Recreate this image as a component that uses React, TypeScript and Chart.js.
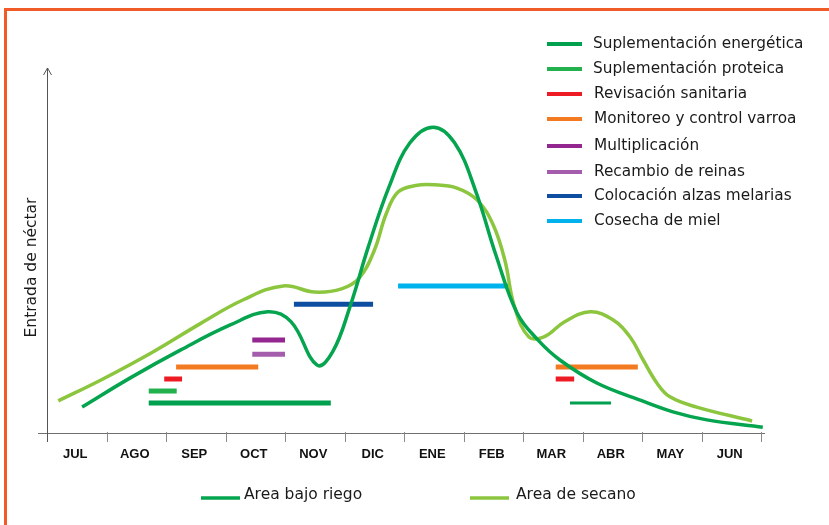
import React, { useEffect, useRef } from "react";
import { Chart, registerables } from "chart.js";

Chart.register(...registerables);

// ---------- data ----------
const months = ["JUL", "AGO", "SEP", "OCT", "NOV", "DIC", "ENE", "FEB", "MAR", "ABR", "MAY", "JUN"];
const yAxisTitle = "Entrada de néctar";

// x in months from start of July, y = relative nectar flow (0-100)
const riegoLabel = "Area bajo riego";
const riegoX = [0.59, 1.4, 2.24, 3.08, 3.71, 4.1, 4.54, 4.8, 5.09, 5.4, 5.75, 6.1, 6.49, 6.85, 7.2, 7.55, 7.9, 8.25, 8.62, 9.24, 9.97, 10.52, 11.09, 12.03];
const riegoY = [7.1, 15.1, 22.7, 29.6, 33.2, 30.5, 18.6, 22.2, 34.5, 51.0, 67.5, 79.5, 83.8, 79.5, 66.5, 48.5, 32.9, 25.5, 20.0, 13.7, 9.0, 5.8, 3.6, 1.6];

const secanoLabel = "Area de secano";
const secanoX = [0.19, 0.94, 1.78, 2.57, 3.3, 3.97, 4.5, 4.95, 5.25, 5.5, 5.7, 5.9, 6.2, 6.5, 6.89, 7.23, 7.5, 7.7, 7.85, 8.1, 8.37, 8.7, 9.13, 9.51, 9.8, 10.02, 10.25, 10.47, 10.92, 11.85];
const secanoY = [8.8, 14.8, 22.2, 29.9, 36.5, 40.3, 38.6, 39.5, 42.5, 50.0, 60.0, 66.0, 67.8, 68.0, 67.1, 63.8, 57.0, 47.0, 35.0, 26.3, 26.5, 30.5, 33.2, 31.0, 26.3, 20.0, 13.7, 9.9, 7.1, 3.3];

// activities: each period = [start month, end month, level]
const activityNames = [
  "Suplementación energética",
  "Suplementación proteica",
  "Revisación sanitaria",
  "Monitoreo y control varroa",
  "Multiplicación",
  "Recambio de reinas",
  "Colocación alzas melarias",
  "Cosecha de miel",
];
const energetica = [[1.71, 4.77, 8.2], [8.79, 9.48, 8.2]];
const proteica = [[1.71, 2.18, 11.5]];
const sanitaria = [[1.97, 2.27, 14.8], [8.55, 8.86, 14.8]];
const varroa = [[2.17, 3.55, 18.1], [8.55, 9.93, 18.1]];
const multiplicacion = [[3.45, 4.0, 25.5]];
const reinas = [[3.45, 4.0, 21.6]];
const alzas = [[4.15, 5.48, 35.3]];
const cosecha = [[5.9, 7.75, 40.3]];
const activityPeriods = [energetica, proteica, sanitaria, varroa, multiplicacion, reinas, alzas, cosecha];

// ---------- styles ----------
const activityColors = ["#00A04E", "#22B14C", "#ED1C24", "#F37A21", "#93278F", "#A45DAD", "#0D4EA0", "#00B2EC"];
const riegoColor = "#05A44F";
const secanoColor = "#8CC63F";
const FONT = "'DejaVu Sans', Verdana, sans-serif";

const toXY = (xs: number[], ys: number[]) => xs.map((x, i) => ({ x, y: ys[i] }));
const toSegments = (periods: number[][]) =>
  periods.flatMap(([a, b, y]) => [
    { x: a, y },
    { x: b, y },
    { x: b, y: null as any },
  ]);

const decorPlugin = {
  id: "decor",
  beforeDatasetsDraw(chart: any) {
    const ctx = chart.ctx;
    const xs = chart.scales.x;
    const ys = chart.scales.y;
    const y0 = ys.getPixelForValue(0);
    const xL = xs.getPixelForValue(0);
    const yTop = ys.getPixelForValue(100);
    ctx.save();
    ctx.strokeStyle = "#707070";
    ctx.lineWidth = 1;
    // x axis
    ctx.beginPath();
    ctx.moveTo(xL - 9, y0 + 0.5);
    ctx.lineTo(xs.getPixelForValue(12) + 4, y0 + 0.5);
    ctx.stroke();
    // ticks
    ctx.strokeStyle = "#8a8a8a";
    for (let i = 0; i <= months.length; i++) {
      const px = Math.round(xs.getPixelForValue(i)) + 0.5;
      ctx.beginPath();
      ctx.moveTo(px, y0 - 1);
      ctx.lineTo(px, y0 + 9);
      ctx.stroke();
    }
    // y axis with arrow
    ctx.strokeStyle = "#555";
    const ax = Math.round(xL) + 0.5;
    ctx.beginPath();
    ctx.moveTo(ax, y0 + 9);
    ctx.lineTo(ax, yTop);
    ctx.moveTo(ax - 4, yTop + 7);
    ctx.lineTo(ax, yTop);
    ctx.lineTo(ax + 4, yTop + 7);
    ctx.stroke();
    // month labels
    ctx.fillStyle = "#111";
    ctx.font = "bold 13px 'Liberation Sans', Arial, sans-serif";
    ctx.textAlign = "center";
    ctx.textBaseline = "middle";
    months.forEach((m, i) => {
      ctx.fillText(m, xs.getPixelForValue(i + 0.5) - 1.5, y0 + 21);
    });
    // y title
    ctx.save();
    ctx.translate(32, (y0 + yTop) / 2 + 17);
    ctx.rotate(-Math.PI / 2);
    ctx.font = `15.5px ${FONT}`;
    ctx.fillStyle = "#1a1a1a";
    ctx.fillText(yAxisTitle, 0, 0);
    ctx.restore();
    ctx.restore();
  },
  afterDraw(chart: any) {
    const ctx = chart.ctx;
    ctx.save();
    ctx.textAlign = "left";
    ctx.textBaseline = "middle";
    ctx.fillStyle = "#1a1a1a";
    ctx.font = `15.3px ${FONT}`;
    // activity legend (top right)
    const rows = [44, 69, 94, 119, 146, 172, 196, 221];
    activityNames.forEach((name, i) => {
      const y = rows[i];
      ctx.strokeStyle = activityColors[i];
      ctx.lineWidth = 4;
      ctx.beginPath();
      ctx.moveTo(547, y);
      ctx.lineTo(582, y);
      ctx.stroke();
      ctx.fillText(name, i < 2 ? 593 : 594, y);
    });
    // curve legend (bottom)
    ctx.font = `15.5px ${FONT}`;
    const bottom = [
      { label: riegoLabel, color: riegoColor, x1: 201, x2: 240, tx: 244 },
      { label: secanoLabel, color: secanoColor, x1: 470, x2: 509, tx: 516 },
    ];
    bottom.forEach((b) => {
      ctx.strokeStyle = b.color;
      ctx.lineWidth = 3.5;
      ctx.beginPath();
      ctx.moveTo(b.x1, 498);
      ctx.lineTo(b.x2, 498);
      ctx.stroke();
      ctx.fillText(b.label, b.tx, 495);
    });
    ctx.restore();
  },
};

export default function App() {
  const ref = useRef<HTMLCanvasElement | null>(null);

  useEffect(() => {
    document.body.style.margin = "0";
    const canvas = ref.current;
    if (!canvas) return;
    const activitySets = activityNames.map((name, i) => ({
      label: name,
      data: toSegments(activityPeriods[i]),
      borderColor: activityColors[i],
      backgroundColor: activityColors[i],
      borderWidth: 5,
      borderCapStyle: "butt",
      pointRadius: 0,
      tension: 0,
      spanGaps: false,
      clip: false,
      order: 2,
      segment: i === 0 ? { borderWidth: (c: any) => (c.p0.parsed.x > 8 ? 3 : 5) } : undefined,
    }));
    const chart = new Chart(canvas, {
      type: "line",
      data: {
        datasets: [
          {
            label: riegoLabel,
            data: toXY(riegoX, riegoY),
            borderColor: riegoColor,
            borderWidth: 3.5,
            pointRadius: 0,
            tension: 0.4,
            clip: false,
            order: 0,
          },
          {
            label: secanoLabel,
            data: toXY(secanoX, secanoY),
            borderColor: secanoColor,
            borderWidth: 3.5,
            pointRadius: 0,
            tension: 0.4,
            clip: false,
            order: 1,
          },
          ...activitySets,
        ] as any,
      },
      options: {
        responsive: false,
        animation: false,
        devicePixelRatio: 1,
        layout: { padding: { left: 47, right: 68, top: 68, bottom: 92 } },
        plugins: { legend: { display: false }, tooltip: { enabled: false } },
        scales: {
          x: { type: "linear", min: 0, max: 12, display: false },
          y: { type: "linear", min: 0, max: 100, display: false },
        },
      },
      plugins: [decorPlugin],
    });
    return () => chart.destroy();
  }, []);

  return (
    <div style={{ position: "relative", width: 829, height: 525, background: "#fff" }}>
      <canvas ref={ref} width={829} height={525} style={{ display: "block", width: 829, height: 525 }} />
      <div
        style={{
          position: "absolute",
          left: 4,
          top: 8,
          right: 0,
          bottom: 0,
          borderLeft: "3px solid #F15A29",
          borderTop: "3px solid #F15A29",
          pointerEvents: "none",
        }}
      />
    </div>
  );
}
